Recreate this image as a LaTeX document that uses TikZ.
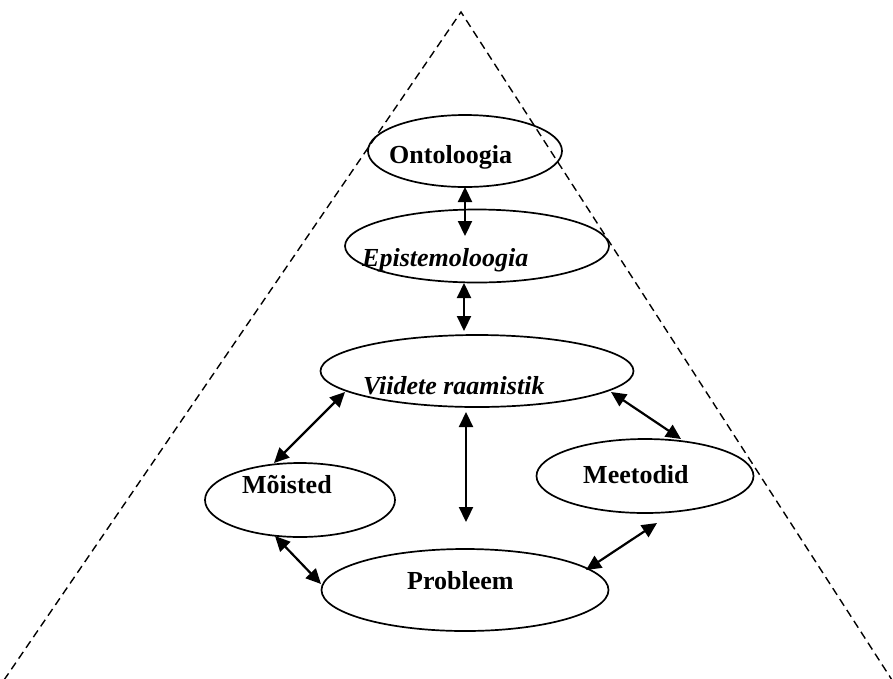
\documentclass[tikz,border=0pt]{standalone}
\usepackage{fontspec}
\setmainfont{Liberation Serif}
\usetikzlibrary{arrows.meta,shapes.geometric}
\begin{document}
\begin{tikzpicture}[x=1pt,y=-1pt,
  oval/.style={draw,ellipse,line width=1.7pt,inner sep=0pt},
  word/.style={anchor=base west,inner sep=0pt,font=\fontsize{26}{30}\selectfont\bfseries},
  link/.style={line width=2.2pt,{Triangle[length=15pt,width=14pt]}-{Triangle[length=15pt,width=14pt]}},
  edge/.style={line width=1.4pt,dash pattern=on 8pt off 5pt}]
\useasboundingbox (0,0) rectangle (893,678);

% pyramid outline
\coordinate (apex) at (461,12);
\coordinate (baseL) at (4,680);
\coordinate (baseR) at (892,680);
\draw[edge] (baseL) -- (apex) -- (baseR);

% ovals
\node[oval,minimum width=194pt,minimum height=72pt] (onto) at (465,151) {};
\node[oval,minimum width=264pt,minimum height=73pt] (epi) at (477,246) {};
\node[oval,minimum width=313pt,minimum height=72pt] (vii) at (477,371) {};
\node[oval,minimum width=190pt,minimum height=74pt] (moi) at (300,500) {};
\node[oval,minimum width=217pt,minimum height=74pt] (mee) at (645,476) {};
\node[oval,minimum width=287pt,minimum height=82pt] (pro) at (465,590) {};

% labels
\node[word] (tonto) at (389,163) {Ontoloogia};
\node[word] (tepi) at (362,266) {\itshape Epistemoloogia};
\node[word] (tvii) at (363,394) {\itshape Viidete raamistik};
\node[word] (tmoi) at (242,493) {Mõisted};
\node[word] (tmee) at (583,483) {Meetodid};
\node[word] (tpro) at (407,589) {Probleem};

% arrow end points
\coordinate (a1) at (465,187);  \coordinate (b1) at (465,236);
\coordinate (a2) at (464,283);  \coordinate (b2) at (464,331);
\coordinate (a3) at (466,412);  \coordinate (b3) at (466,522);
\coordinate (a4) at (345,392);  \coordinate (b4) at (274,463);
\coordinate (a5) at (275,536);  \coordinate (b5) at (321,584);
\coordinate (a6) at (611,392);  \coordinate (b6) at (681,439);
\coordinate (a7) at (657,523);  \coordinate (b7) at (586,570);

\draw[link] (a1) -- (b1);
\draw[link] (a2) -- (b2);
\draw[link] (a3) -- (b3);
\draw[link] (a4) -- (b4);
\draw[link] (a5) -- (b5);
\draw[link] (a6) -- (b6);
\draw[link] (a7) -- (b7);
\end{tikzpicture}
\end{document}
